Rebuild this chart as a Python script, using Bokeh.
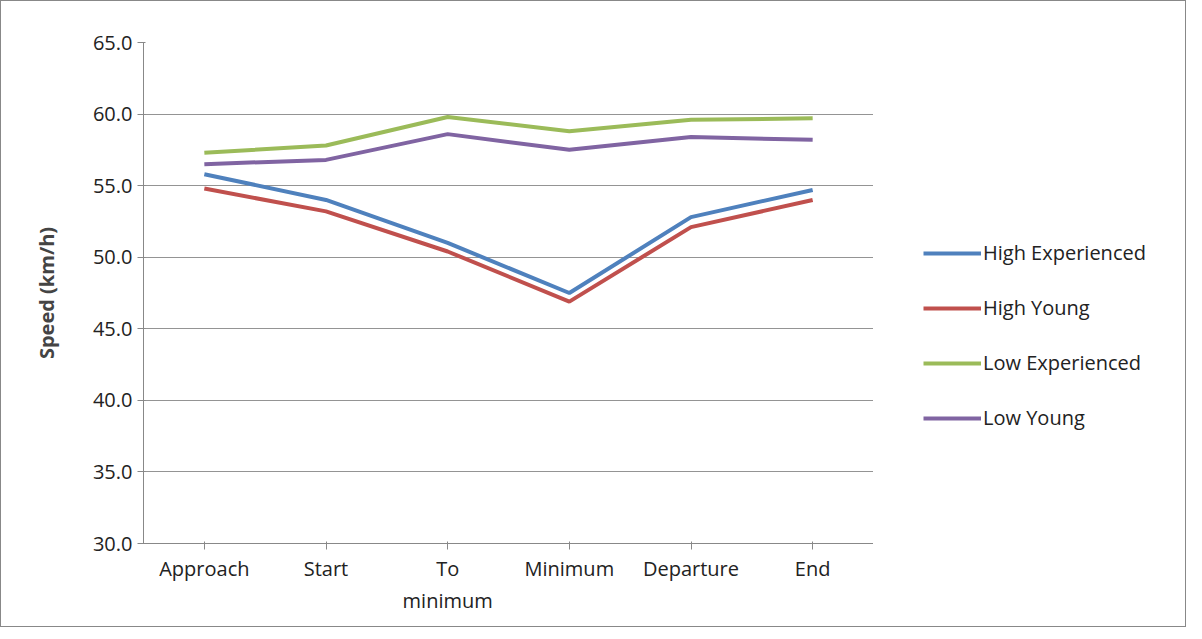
from bokeh.plotting import figure
from bokeh.layouts import row
from bokeh.models import Legend, SingleIntervalTicker, NumeralTickFormatter
from bokeh.embed import file_html
from bokeh.resources import INLINE

stages = ["Approach", "Start", "To\nminimum", "Minimum", "Departure", "End"]
high_exp = [55.8, 54.0, 51.0, 47.5, 52.8, 54.7]
high_young = [54.8, 53.2, 50.4, 46.9, 52.1, 54.0]
low_exp = [57.3, 57.8, 59.8, 58.8, 59.6, 59.7]
low_young = [56.5, 56.8, 58.6, 57.5, 58.4, 58.2]

names = ["High Experienced", "High Young", "Low Experienced", "Low Young"]
colors = ["#4F81BD", "#C0504D", "#9BBB59", "#8064A2"]
series = [high_exp, high_young, low_exp, low_young]

FONT = "Open Sans"

p = figure(x_range=stages, y_range=(30, 65), frame_width=730, frame_height=501,
           min_border_left=142, min_border_right=0, min_border_top=41,
           min_border_bottom=83,
           output_backend="svg", toolbar_location=None)
p.outline_line_color = None
p.x_range.range_padding = 0

for c, s in zip(colors, series):
    p.line(stages, s, line_color=c, line_width=4)

# legend lives in its own small figure to the right
lg = figure(width=312, height=625, x_range=(0, 1), y_range=(0, 1),
            output_backend="svg", toolbar_location=None, min_border=0)
lg.axis.visible = False
lg.grid.visible = False
lg.outline_line_color = None
items = []
for name, c in zip(names, colors):
    r = lg.line([5, 6], [5, 6], line_color=c, line_width=4)
    items.append((name, [r]))
legend = Legend(items=items, location=(50, 112), label_text_font=FONT,
                label_text_font_size="15pt", label_text_color="#222",
                spacing=28, glyph_width=58, border_line_color=None,
                background_fill_alpha=0, margin=0, padding=0, label_standoff=2)
lg.add_layout(legend, "center")

p.yaxis.ticker = SingleIntervalTicker(interval=5)
p.yaxis.formatter = NumeralTickFormatter(format="0.0")
p.yaxis.axis_label = "Speed (km/h)"
p.yaxis.axis_label_text_font = FONT
p.yaxis.axis_label_text_font_style = "bold"
p.yaxis.axis_label_text_font_size = "15pt"
p.yaxis.axis_label_standoff = 30
p.yaxis.axis_line_color = "#888"
p.yaxis.major_tick_out = 6
p.yaxis.major_tick_line_color = "#888"
p.yaxis.minor_tick_line_color = None
p.xaxis.axis_line_color = "#888"
p.xaxis.major_tick_line_color = "#888"
p.xaxis.major_tick_out = 6
for ax in (p.xaxis, p.yaxis):
    ax.major_label_text_font = FONT
    ax.major_label_text_font_size = "15pt"
    ax.major_label_text_color = "#222"
p.xgrid.grid_line_color = None
p.ygrid.grid_line_color = "#888"
p.ygrid.grid_line_alpha = 0.9

layout = row(p, lg, spacing=0, styles={"border": "1px solid #888"})
open("out.html", "w").write(file_html(layout, INLINE))
